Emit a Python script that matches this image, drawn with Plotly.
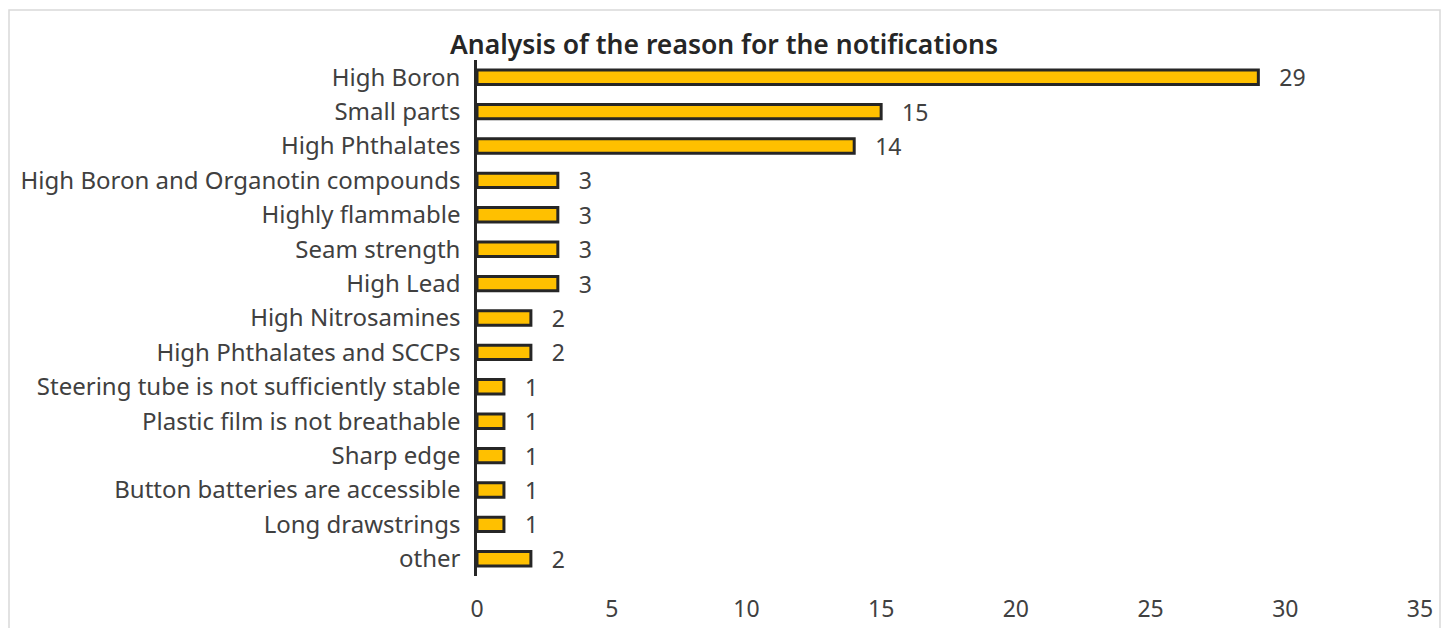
import plotly.graph_objects as go

categories = [
    "High Boron", "Small parts", "High Phthalates", "High Boron and Organotin compounds",
    "Highly flammable", "Seam strength", "High Lead", "High Nitrosamines",
    "High Phthalates and SCCPs", "Steering tube is not sufficiently stable",
    "Plastic film is not breathable", "Sharp edge", "Button batteries are accessible",
    "Long drawstrings", "other",
]
values = [29, 15, 14, 3, 3, 3, 3, 2, 2, 1, 1, 1, 1, 1, 2]
x_ticks = [0, 5, 10, 15, 20, 25, 30, 35]
title = "Analysis of the reason for the notifications"

FONT = "Noto Sans, Open Sans, sans-serif"
TXT = "#404040"

fig = go.Figure(go.Bar(
    y=categories, x=values, orientation="h",
    marker=dict(color="#FFC000", line=dict(color="#262626", width=3)),
    width=0.42,
    text=values, texttemplate="   %{x}", textposition="outside",
    constraintext="none",
    textfont=dict(size=23, color=TXT, family=FONT),
    cliponaxis=False,
))

fig.update_layout(
    width=1448, height=628,
    margin=dict(l=477, r=28, t=60, b=52, autoexpand=False),
    paper_bgcolor="white", plot_bgcolor="white",
    font=dict(family=FONT, color=TXT, size=23),
    title=dict(text=title, x=0.5, xref="container", xanchor="center",
               y=1 - 45 / 628, yref="container", yanchor="middle",
               font=dict(size=26.5, color="#262626", family=FONT, weight=600)),
    showlegend=False,
    xaxis=dict(range=[0, 35], tickvals=x_ticks, showgrid=False, zeroline=False,
               showline=False, ticks="", ticklabelstandoff=17, automargin=False,
               tickfont=dict(size=23, color=TXT)),
    yaxis=dict(autorange="reversed", showgrid=False, zeroline=False, automargin=False,
               showline=True, linecolor="#262626", linewidth=2.5, ticks="",
               ticklabelstandoff=9, tickfont=dict(size=24, color=TXT)),
    shapes=[dict(type="rect", xref="paper", yref="paper",
                 x0=(9 - 477) / 943, x1=(1440 - 477) / 943,
                 y0=-0.3, y1=(576 - 10) / 516,
                 line=dict(color="#d9d9d9", width=1.5), fillcolor="rgba(0,0,0,0)",
                 layer="below")],
)

fig.write_html("out.html", config={"displayModeBar": False},
               post_script="document.body.style.margin='0';")
